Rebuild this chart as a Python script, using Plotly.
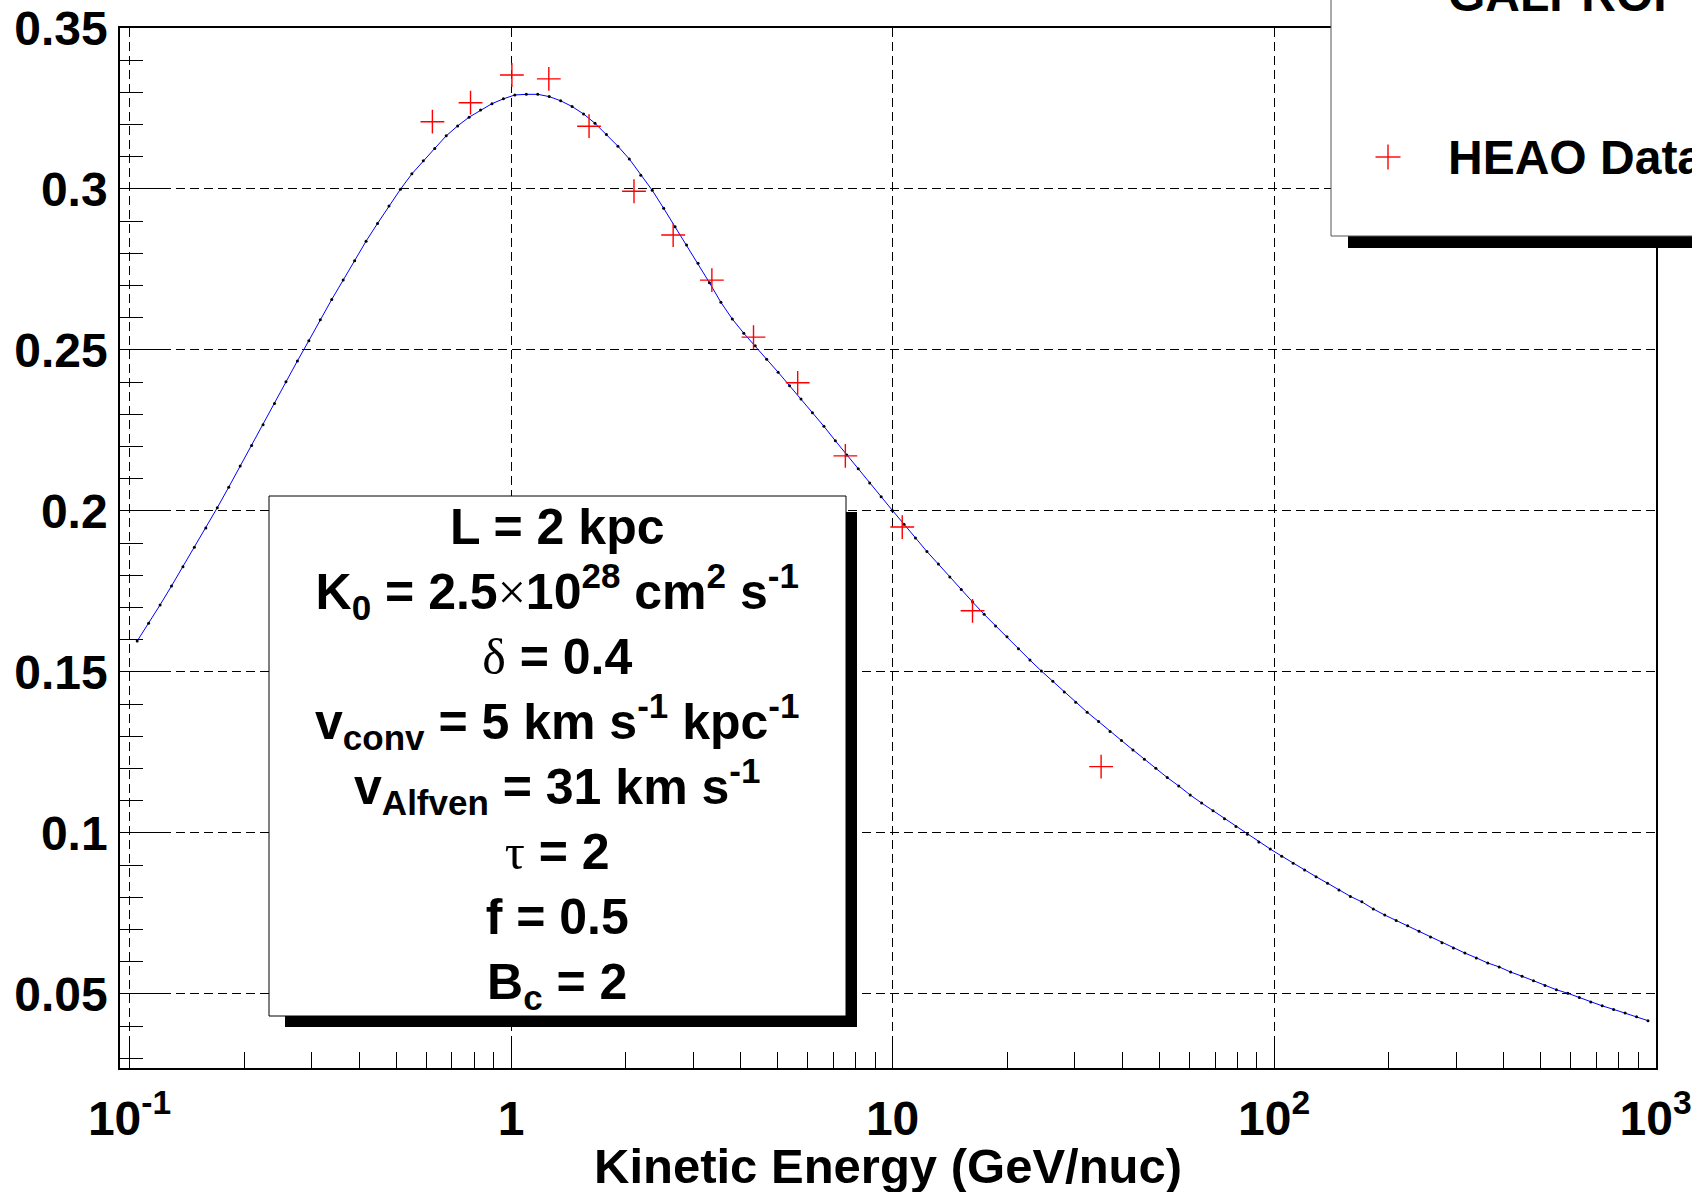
import plotly.graph_objects as go

# ---------------- data ----------------
# GALPROP model curve (log10 of kinetic energy per nucleon, B/C ratio)
galprop_log10_e = [
    -0.98, -0.95, -0.92, -0.89, -0.86, -0.83, -0.80, -0.77, -0.74, -0.71,
    -0.68, -0.65, -0.62, -0.59, -0.56, -0.53, -0.50, -0.47, -0.44, -0.41,
    -0.38, -0.35, -0.32, -0.29, -0.26, -0.23, -0.20, -0.17, -0.14, -0.11,
    -0.08, -0.05, -0.02, 0.01, 0.04, 0.07, 0.10, 0.13, 0.16, 0.19,
    0.22, 0.25, 0.28, 0.31, 0.34, 0.37, 0.40, 0.43, 0.46, 0.49,
    0.52, 0.55, 0.58, 0.61, 0.64, 0.67, 0.70, 0.73, 0.76, 0.79,
    0.82, 0.85, 0.88, 0.91, 0.94, 0.97, 1.00, 1.03, 1.06, 1.09,
    1.12, 1.15, 1.18, 1.21, 1.24, 1.27, 1.30, 1.33, 1.36, 1.39,
    1.42, 1.45, 1.48, 1.51, 1.54, 1.57, 1.60, 1.63, 1.66, 1.69,
    1.72, 1.75, 1.78, 1.81, 1.84, 1.87, 1.90, 1.93, 1.96, 1.99,
    2.02, 2.05, 2.08, 2.11, 2.14, 2.17, 2.20, 2.23, 2.26, 2.29,
    2.32, 2.35, 2.38, 2.41, 2.44, 2.47, 2.50, 2.53, 2.56, 2.59,
    2.62, 2.65, 2.68, 2.71, 2.74, 2.77, 2.80, 2.83, 2.86, 2.89,
    2.92, 2.95, 2.98,
]
galprop_ratio = [
    0.1596, 0.1651, 0.1708, 0.1767, 0.1827, 0.1887, 0.1947, 0.2010, 0.2074, 0.2140,
    0.2203, 0.2268, 0.2334, 0.2401, 0.2466, 0.2529, 0.2594, 0.2657, 0.2717, 0.2777,
    0.2838, 0.2893, 0.2947, 0.2999, 0.3047, 0.3088, 0.3126, 0.3165, 0.3196, 0.3223,
    0.3245, 0.3265, 0.3280, 0.3292, 0.3294, 0.3294, 0.3287, 0.3274, 0.3256, 0.3233,
    0.3204, 0.3169, 0.3133, 0.3093, 0.3043, 0.2996, 0.2940, 0.2883, 0.2826, 0.2769,
    0.2709, 0.2648, 0.2596, 0.2552, 0.2513, 0.2471, 0.2431, 0.2389, 0.2348, 0.2305,
    0.2263, 0.2218, 0.2174, 0.2131, 0.2087, 0.2044, 0.2001, 0.1959, 0.1916, 0.1874,
    0.1835, 0.1795, 0.1756, 0.1717, 0.1679, 0.1643, 0.1609, 0.1572, 0.1537, 0.1503,
    0.1471, 0.1438, 0.1406, 0.1375, 0.1346, 0.1315, 0.1287, 0.1258, 0.1229, 0.1201,
    0.1172, 0.1146, 0.1118, 0.1093, 0.1069, 0.1044, 0.1020, 0.0996, 0.0972, 0.0950,
    0.0928, 0.0906, 0.0885, 0.0864, 0.0844, 0.0823, 0.0803, 0.0786, 0.0764, 0.0745,
    0.0728, 0.0712, 0.0695, 0.0677, 0.0659, 0.0643, 0.0627, 0.0612, 0.0596, 0.0584,
    0.0568, 0.0555, 0.0541, 0.0526, 0.0513, 0.0502, 0.0489, 0.0475, 0.0463, 0.0452,
    0.0441, 0.0429, 0.0417,
]

# HEAO data points
heao_energy = [0.622, 0.783, 1.005, 1.256, 1.601, 2.10, 2.66, 3.36, 4.32, 5.64, 7.52, 10.6, 16.2, 35.2]
heao_ratio = [0.3209, 0.3268, 0.3354, 0.3342, 0.3195, 0.2993, 0.2857, 0.2717, 0.2540, 0.2398,
              0.2171, 0.1950, 0.1690, 0.1206]

x_tick_vals = [0.1, 1, 10, 100, 1000]
x_tick_text = ["10<sup>-1</sup>", "1", "10", "10<sup>2</sup>", "10<sup>3</sup>"]
x_minor_vals = [m * d for d in (0.1, 1, 10, 100) for m in range(2, 10)]
y_tick_vals = [0.05, 0.1, 0.15, 0.2, 0.25, 0.3, 0.35]
y_tick_text = ["0.05", "0.1", "0.15", "0.2", "0.25", "0.3", "0.35"]

x_title = "Kinetic Energy (GeV/nuc)"
legend_labels = ["GALPROP", "HEAO Data"]

SERIF = "font-family:Liberation Serif;font-weight:normal"
param_lines = [
    "L = 2 kpc",
    "K<sub>0</sub> = 2.5<span style='%s'>×</span>10<sup>28</sup> cm<sup>2</sup> s<sup>-1</sup>" % SERIF,
    "<span style='%s'>δ</span> = 0.4" % SERIF,
    "v<sub>conv</sub> = 5 km s<sup>-1</sup> kpc<sup>-1</sup>",
    "v<sub>Alfven</sub> = 31 km s<sup>-1</sup>",
    "<span style='%s'>τ</span> = 2" % SERIF,
    "f = 0.5",
    "B<sub>c</sub> = 2",
]

# ---------------- layout geometry (pixels) ----------------
W, H = 1692, 1192
L, R, T, B = 120, 1656, 28, 1068


def px(x):
    return (x - L) / (R - L)


def py(y):
    return (B - y) / (B - T)


FONT = "Liberation Sans, Arial, Helvetica, sans-serif"

fig = go.Figure()

fig.add_trace(go.Scatter(
    x=[10 ** v for v in galprop_log10_e], y=galprop_ratio,
    mode="lines+markers",
    line=dict(color="#0000ff", width=1),
    marker=dict(color="black", size=3),
    name=legend_labels[0], showlegend=False,
))

fig.add_trace(go.Scatter(
    x=heao_energy, y=heao_ratio,
    mode="markers",
    marker=dict(symbol="cross-thin", size=17, line=dict(color="#ff0000", width=1.4)),
    name=legend_labels[1], showlegend=False,
))

grid = dict(showgrid=True, gridcolor="#000000", gridwidth=1, griddash="9px,5px")

fig.update_xaxes(
    type="log", range=[-1.025, 3.001],
    tickmode="array", tickvals=x_tick_vals, ticktext=x_tick_text,
    ticks="inside", ticklen=30, tickwidth=1, tickcolor="black",
    minor=dict(tickmode="array", tickvals=x_minor_vals, ticks="inside", ticklen=16,
               tickwidth=1, tickcolor="black", showgrid=False),
    tickfont=dict(family=FONT, size=48, color="black", weight="bold"),
    ticklabelstandoff=7,
    showline=True, linecolor="black", linewidth=2, mirror=True,
    zeroline=False, automargin=False,
    **grid,
)

fig.update_yaxes(
    range=[0.0270, 0.35],
    tickmode="array", tickvals=y_tick_vals, ticktext=y_tick_text,
    ticks="inside", ticklen=47, tickwidth=1, tickcolor="black",
    minor=dict(tickmode="linear", tick0=0, dtick=0.01, ticks="inside", ticklen=23,
               tickwidth=1, tickcolor="black", showgrid=False),
    tickfont=dict(family=FONT, size=48, color="black", weight="bold"),
    ticklabelstandoff=1,
    showline=True, linecolor="black", linewidth=1.5, mirror=True,
    zeroline=False, automargin=False,
    **grid,
)

shapes = []
annotations = []

# parameter box (shadow + frame)
shapes.append(dict(type="rect", xref="paper", yref="paper", layer="above",
                   x0=px(285), x1=px(857), y0=py(1027), y1=py(512),
                   fillcolor="black", line=dict(width=0)))
shapes.append(dict(type="rect", xref="paper", yref="paper", layer="above",
                   x0=px(269), x1=px(846), y0=py(1016), y1=py(496),
                   fillcolor="white", line=dict(color="black", width=1)))

annotations.append(dict(
    xref="paper", yref="paper", x=px(557), y=py(758), xanchor="center", yanchor="middle",
    text="<br>".join(param_lines), showarrow=False, align="center",
    font=dict(family=FONT, size=50, color="black", weight="bold"),
))

# legend box (partially outside the canvas)
shapes.append(dict(type="rect", xref="paper", yref="paper", layer="above",
                   x0=px(1348), x1=px(1760), y0=py(248), y1=py(200),
                   fillcolor="black", line=dict(width=0)))
shapes.append(dict(type="rect", xref="paper", yref="paper", layer="above",
                   x0=px(1331), x1=px(1740), y0=py(236), y1=py(-40),
                   fillcolor="white", line=dict(color="#555555", width=1)))
# legend marker for HEAO
shapes.append(dict(type="line", xref="paper", yref="paper", layer="above",
                   x0=px(1375.5), x1=px(1400.5), y0=py(157), y1=py(157),
                   line=dict(color="#ff0000", width=1.4)))
shapes.append(dict(type="line", xref="paper", yref="paper", layer="above",
                   x0=px(1388), x1=px(1388), y0=py(144.5), y1=py(169.5),
                   line=dict(color="#ff0000", width=1.4)))

annotations.append(dict(
    xref="paper", yref="paper", x=px(1446), y=py(-5), xanchor="left", yanchor="middle",
    text=legend_labels[0], showarrow=False,
    font=dict(family=FONT, size=48, color="black", weight="bold"),
))
annotations.append(dict(
    xref="paper", yref="paper", x=px(1446), y=py(157), xanchor="left", yanchor="middle",
    text=legend_labels[1], showarrow=False,
    font=dict(family=FONT, size=48, color="black", weight="bold"),
))

# x-axis title
annotations.append(dict(
    xref="paper", yref="paper", x=0.5, y=py(1166), xanchor="center", yanchor="middle",
    text=x_title, showarrow=False,
    font=dict(family=FONT, size=49, color="black", weight="bold"),
))

fig.update_layout(
    width=W, height=H,
    margin=dict(l=L, r=W - R, t=T, b=H - B, autoexpand=False, pad=0),
    paper_bgcolor="white", plot_bgcolor="white",
    showlegend=False,
    shapes=shapes, annotations=annotations,
)

fig.write_html("out.html")
